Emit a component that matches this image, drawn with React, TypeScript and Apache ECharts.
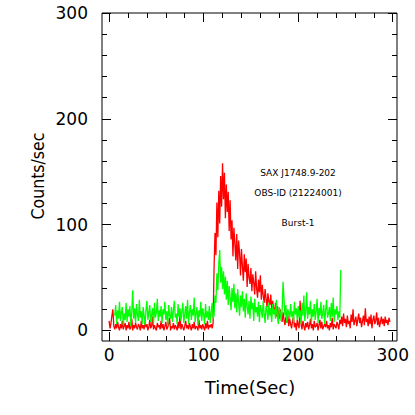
import React, { useEffect, useRef } from "react";
import * as echarts from "echarts";

// Light curve, 1 s bins
const redStart = 0;
const redCounts = [
  9, 2, 7, 14, 20, 4, 1, 6, 2, 8,
  3, 0, 6, 2, 9, 1, 4, 7, 0, 5,
  2, 8, 1, 3, 11, 0, 5, 2, 7, 3,
  1, 6, 4, 0, 9, 2, 5, 1, 8, 3,
  6, 0, 3, 10, 2, 4, 13, 1, 5, 2,
  0, 7, 3, 5, 1, 9, 2, 6, 0, 4,
  8, 1, 3, 6, 12, 0, 4, 2, 7, 1,
  5, 3, 0, 8, 2, 14, 1, 6, 3, 0,
  4, 9, 2, 5, 1, 7, 3, 0, 6, 2,
  8, 1, 4, 3, 0, 10, 2, 5, 1, 6,
  3, 0, 7, 2, 9, 1, 5, 3, 6, 2,
  7, 58, 92, 71, 121, 88, 132, 101, 146, 117,
  158, 124, 149, 106, 138, 112, 131, 94, 123, 86,
  104, 70, 97, 82, 66, 91, 58, 85, 73, 52,
  77, 61, 47, 72, 55, 68, 41, 63, 50, 44,
  59, 37, 53, 45, 34, 56, 40, 31, 48, 36,
  52, 29, 43, 33, 26, 39, 30, 22, 35, 27,
  24, 34, 19, 28, 21, 16, 26, 13, 23, 17,
  11, 20, 14, 8, 17, 10, 5, 13, 7, 15,
  4, 11, 6, 2, 9, 13, 3, 7, 0, 10,
  5, 2, 28, 6, 1, 9, 4, 0, 7, 3,
  8, 1, 5, 11, 2, 6, 0, 9, 3, 4,
  7, 0, 5, 10, 2, 8, 1, 4, 6, 3,
  9, 2, 5, 0, 7, 3, 12, 1, 6, 4,
  2, 8, 5, 1, 10, 6, 13, 4, 16, 7,
  11, 3, 14, 6, 9, 2, 15, 8, 20, 5,
  9, 13, 4, 10, 16, 7, 12, 3, 9, 14,
  5, 21, 8, 11, 4, 13, 6, 15, 2, 10,
  14, 6, 9, 17, 5, 12, 3, 8, 13, 6,
  11, 4, 13, 7, 10, 5, 12, 8,
];

const greenStart = 6;
const greenCounts = [
  14, 24, 6, 19, 11, 27, 9, 17, 22, 5,
  16, 10, 26, 8, 20, 13, 23, 4, 18, 38,
  11, 21, 7, 25, 15, 9, 29, 12, 18, 6,
  22, 14, 5, 19, 28, 10, 17, 24, 8, 15,
  21, 6, 26, 12, 17, 30, 9, 19, 13, 23,
  7, 20, 15, 27, 10, 18, 5, 24, 14, 11,
  22, 8, 19, 28, 12, 16, 6, 25, 13, 21,
  9, 18, 26, 7, 15, 23, 11, 29, 6, 17,
  24, 10, 20, 14, 31, 8, 16, 22, 5, 19,
  13, 27, 9, 21, 15, 6, 25, 12, 18, 10,
  23, 7, 17, 26, 11, 14,
  33, 26, 54, 38, 63, 76, 45, 60, 39, 56,
  34, 51, 29, 47, 24, 42, 31, 19, 40, 27,
  44, 21, 35, 17, 39, 26, 14, 33, 22, 37,
  18, 30, 12, 35, 23, 15, 28, 11, 32, 20,
  26, 9, 30, 17, 22, 13, 27, 8, 24, 19,
  12, 28, 16, 7, 23, 19, 10, 26, 14, 21,
  8, 25, 15, 20, 11, 29, 13, 6, 22, 17,
  9, 19, 46, 30, 14, 24, 7, 20, 16, 11,
  25, 13, 18, 8, 27, 15, 21, 10, 23, 12,
  19, 6, 26, 14, 33, 9, 17, 36, 11, 22,
  15, 28, 8, 20, 13, 25, 10, 18, 30, 7,
  21, 14, 27, 11, 17, 24, 6, 19, 29, 12,
  16, 22, 9, 26, 13, 31, 8, 20, 15, 23,
  10, 18, 12, 57,
];

const xMajorTicks = [0, 100, 200, 300];
const xMinorTicks = [20, 40, 60, 80, 120, 140, 160, 180, 220, 240, 260, 280];
const yMajorTicks = [0, 100, 200, 300];
const yMinorTicks = [20, 40, 60, 80, 120, 140, 160, 180, 220, 240, 260, 280];

const xTitle = "Time(Sec)";
const yTitle = "Counts/sec";
const notes = ["SAX J1748.9-202", "OBS-ID (21224001)", "Burst-1"];

const X_MIN = -7.5;
const X_MAX = 304.5;
const Y_MIN = -10;
const Y_MAX = 300;

const tickFont = { fontFamily: "'DejaVu Sans', sans-serif", fontSize: 17, color: "#000" };

function makeX(position: string, ticks: number[], len: number, labels: boolean) {
  return {
    type: "value",
    gridIndex: 0,
    position,
    min: X_MIN,
    max: X_MAX,
    axisLine: { show: false, onZero: false },
    splitLine: { show: false },
    axisTick: { show: true, inside: true, length: len, customValues: ticks, lineStyle: { color: "#000", width: 1 } },
    axisLabel: labels
      ? { show: true, customValues: ticks, margin: 5, ...tickFont }
      : { show: false },
  };
}

function makeY(position: string, ticks: number[], len: number, labels: boolean) {
  return {
    type: "value",
    gridIndex: 0,
    position,
    min: Y_MIN,
    max: Y_MAX,
    axisLine: { show: false, onZero: false },
    splitLine: { show: false },
    axisTick: { show: true, inside: true, length: len, customValues: ticks, lineStyle: { color: "#000", width: 1 } },
    axisLabel: labels
      ? { show: true, customValues: ticks, margin: 14, ...tickFont }
      : { show: false },
  };
}

export default function App() {
  const ref = useRef<HTMLDivElement>(null);
  useEffect(() => {
    if (!ref.current) return;
    const chart = echarts.init(ref.current, null, { renderer: "svg" });
    const redData = redCounts.map((v, i) => [redStart + i, v]);
    const greenData = greenCounts.map((v, i) => [greenStart + i, v]);
    chart.setOption({
      animation: false,
      backgroundColor: "#fff",
      grid: {
        left: 102,
        top: 13,
        width: 295,
        height: 328,
        show: true,
        borderColor: "#000",
        borderWidth: 1,
        backgroundColor: "transparent",
      },
      xAxis: [
        makeX("bottom", xMajorTicks, 9, true),
        makeX("bottom", xMinorTicks, 5, false),
        makeX("top", xMajorTicks, 9, false),
        makeX("top", xMinorTicks, 5, false),
      ],
      yAxis: [
        makeY("left", yMajorTicks, 9, true),
        makeY("left", yMinorTicks, 5, false),
        makeY("right", yMajorTicks, 9, false),
        makeY("right", yMinorTicks, 5, false),
      ],
      series: [
        {
          type: "line",
          xAxisIndex: 0,
          yAxisIndex: 0,
          data: redData,
          showSymbol: false,
          symbol: "none",
          lineStyle: { color: "#ff0000", width: 1.3 },
          itemStyle: { color: "#ff0000" },
          clip: true,
          z: 2,
        },
        {
          type: "line",
          xAxisIndex: 0,
          yAxisIndex: 0,
          data: greenData,
          showSymbol: false,
          symbol: "none",
          lineStyle: { color: "#00ff00", width: 1.3 },
          itemStyle: { color: "#00ff00" },
          clip: true,
          z: 3,
        },
      ],
      graphic: [
        {
          type: "text",
          x: 250,
          y: 387,
          style: {
            text: xTitle,
            align: "center",
            verticalAlign: "middle",
            fontFamily: "'DejaVu Sans', sans-serif",
            fontSize: 18,
            fill: "#000",
          },
        },
        {
          type: "text",
          x: 38,
          y: 176,
          rotation: Math.PI / 2,
          style: {
            text: yTitle,
            align: "center",
            verticalAlign: "middle",
            fontFamily: "'Liberation Sans Narrow', 'DejaVu Sans Condensed', sans-serif",
            fontSize: 17.5,
            fill: "#000",
          },
        },
        ...notes.map((t, i) => ({
          type: "text",
          x: 298,
          y: [173, 193, 223][i],
          style: {
            text: t,
            align: "center",
            verticalAlign: "middle",
            fontFamily: "'DejaVu Sans', sans-serif",
            fontSize: 9,
            fill: "#000",
          },
        })),
      ],
    });
    return () => chart.dispose();
  }, []);
  return <div ref={ref} style={{ width: 415, height: 415, position: "absolute", left: 0, top: 0 }} />;
}
